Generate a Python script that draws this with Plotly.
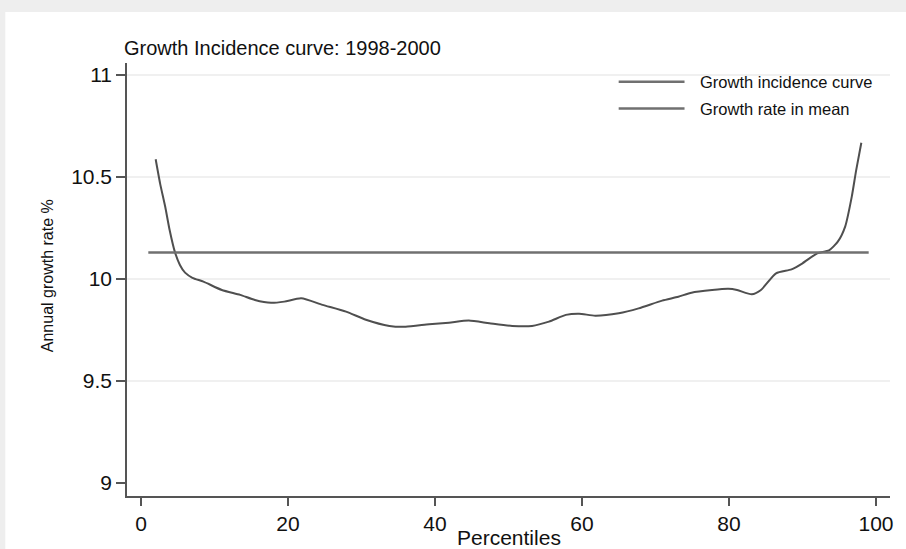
import plotly.graph_objects as go

# ---- data ----
percentile = [2, 2.6, 3.3, 3.9, 4.6, 5.3, 6, 7, 8.5, 11, 13.5, 15.5, 17.7, 19.5,
              21.8, 24.7, 27.9, 30.6, 33.8, 36, 39.2, 41.9, 44.6, 47.4, 50.5, 53.2,
              55.5, 57.8, 59.6, 61.8, 65, 67.7, 70.9, 73.1, 74.9, 77.7, 79.9, 81.1,
              83.1, 84.3, 86.4, 88.5, 90, 92, 93.6, 94.8, 95.8, 96.7, 97.3, 98]
growth = [10.587, 10.469, 10.354, 10.240, 10.134, 10.069, 10.031, 10.006, 9.987, 9.946,
          9.922, 9.897, 9.883, 9.889, 9.905, 9.873, 9.840, 9.800, 9.770, 9.766,
          9.778, 9.786, 9.796, 9.783, 9.770, 9.770, 9.791, 9.824, 9.830, 9.820,
          9.832, 9.856, 9.894, 9.913, 9.933, 9.946, 9.952, 9.946, 9.925, 9.945,
          10.028, 10.047, 10.077, 10.126, 10.140, 10.183, 10.257, 10.404, 10.534, 10.668]
mean_x = [1, 99]
mean_growth = [10.13, 10.13]

y_ticks = [9, 9.5, 10, 10.5, 11]
y_tick_labels = ["9", "9.5", "10", "10.5", "11"]
x_ticks = [0, 20, 40, 60, 80, 100]
x_tick_labels = ["0", "20", "40", "60", "80", "100"]
grid_values = [9.5, 10, 10.5, 11]

legend_names = ["Growth incidence curve", "Growth rate in mean"]
title_text = "Growth Incidence curve: 1998-2000"
x_title = "Percentiles"
y_title = "Annual growth rate %"

FONT = "Liberation Sans, Arial, Helvetica, sans-serif"
CURVE_COLOR = "#4f4f4f"
MEAN_COLOR = "#707070"
TEXT_COLOR = "#111111"

fig = go.Figure()
fig.add_trace(go.Scatter(x=percentile, y=growth, mode="lines",
                         line=dict(color=CURVE_COLOR, width=2, shape="spline", smoothing=0.6),
                         name=legend_names[0], showlegend=False))
fig.add_trace(go.Scatter(x=mean_x, y=mean_growth, mode="lines",
                         line=dict(color=MEAN_COLOR, width=2.5),
                         name=legend_names[1], showlegend=False))

shapes = [
    # white panel over grey frame
    dict(type="rect", xref="paper", yref="paper", x0=-0.1595, x1=1.1, y0=-0.2, y1=1.1178,
         fillcolor="white", line=dict(width=0), layer="below"),
]
for g in grid_values:
    shapes.append(dict(type="line", xref="paper", yref="y", x0=0, x1=1, y0=g, y1=g,
                       line=dict(color="#ebebeb", width=1.5), layer="below"))
# manual legend keys
legend_y = [0.9568, 0.8949]
legend_colors = [MEAN_COLOR, MEAN_COLOR]
annotations = []
for name, ly, lc in zip(legend_names, legend_y, legend_colors):
    shapes.append(dict(type="line", xref="paper", yref="paper", x0=0.6444, x1=0.7307,
                       y0=ly, y1=ly, line=dict(color=lc, width=2.5)))
    annotations.append(dict(xref="paper", yref="paper", x=0.749, y=ly, text=name,
                            showarrow=False, xanchor="left", yanchor="middle",
                            font=dict(family=FONT, size=16.5, color=TEXT_COLOR)))

annotations.append(dict(xref="paper", yref="paper", x=0.5, y=-0.0947, text=x_title,
                        showarrow=False, xanchor="center", yanchor="middle",
                        font=dict(family=FONT, size=21, color=TEXT_COLOR)))
annotations.append(dict(xref="paper", yref="paper", x=-0.1046, y=0.508, text=y_title,
                        textangle=-90, showarrow=False, xanchor="center", yanchor="middle",
                        font=dict(family=FONT, size=16, color=TEXT_COLOR)))

fig.update_layout(
    width=906, height=549,
    margin=dict(l=127, r=14, t=63, b=53),
    paper_bgcolor="#eeeeee", plot_bgcolor="rgba(0,0,0,0)",
    title=dict(text=title_text, x=124 / 906, xanchor="left", xref="container",
               y=1 - 48 / 549, yanchor="middle", yref="container",
               font=dict(family=FONT, size=20, color=TEXT_COLOR)),
    showlegend=False,
    shapes=shapes, annotations=annotations,
    font=dict(family=FONT, color=TEXT_COLOR),
)
fig.update_xaxes(range=[-1.9, 101.9], tickvals=x_ticks, ticktext=x_tick_labels,
                 showgrid=False, zeroline=False, showline=True, linecolor="#555", linewidth=1.5,
                 ticks="outside", ticklen=8, tickwidth=1.5, tickcolor="#555",
                 tickfont=dict(family=FONT, size=21, color=TEXT_COLOR))
fig.update_yaxes(range=[8.936, 11.059], tickvals=y_ticks, ticktext=y_tick_labels,
                 showgrid=False, zeroline=False, showline=True, linecolor="#555", linewidth=1.5,
                 ticks="outside", ticklen=9, tickwidth=1.5, tickcolor="#555",
                 tickfont=dict(family=FONT, size=21, color=TEXT_COLOR))

fig.write_html("out.html", config={"displayModeBar": False},
               post_script="document.body.style.margin='0';document.body.style.overflow='hidden';")
